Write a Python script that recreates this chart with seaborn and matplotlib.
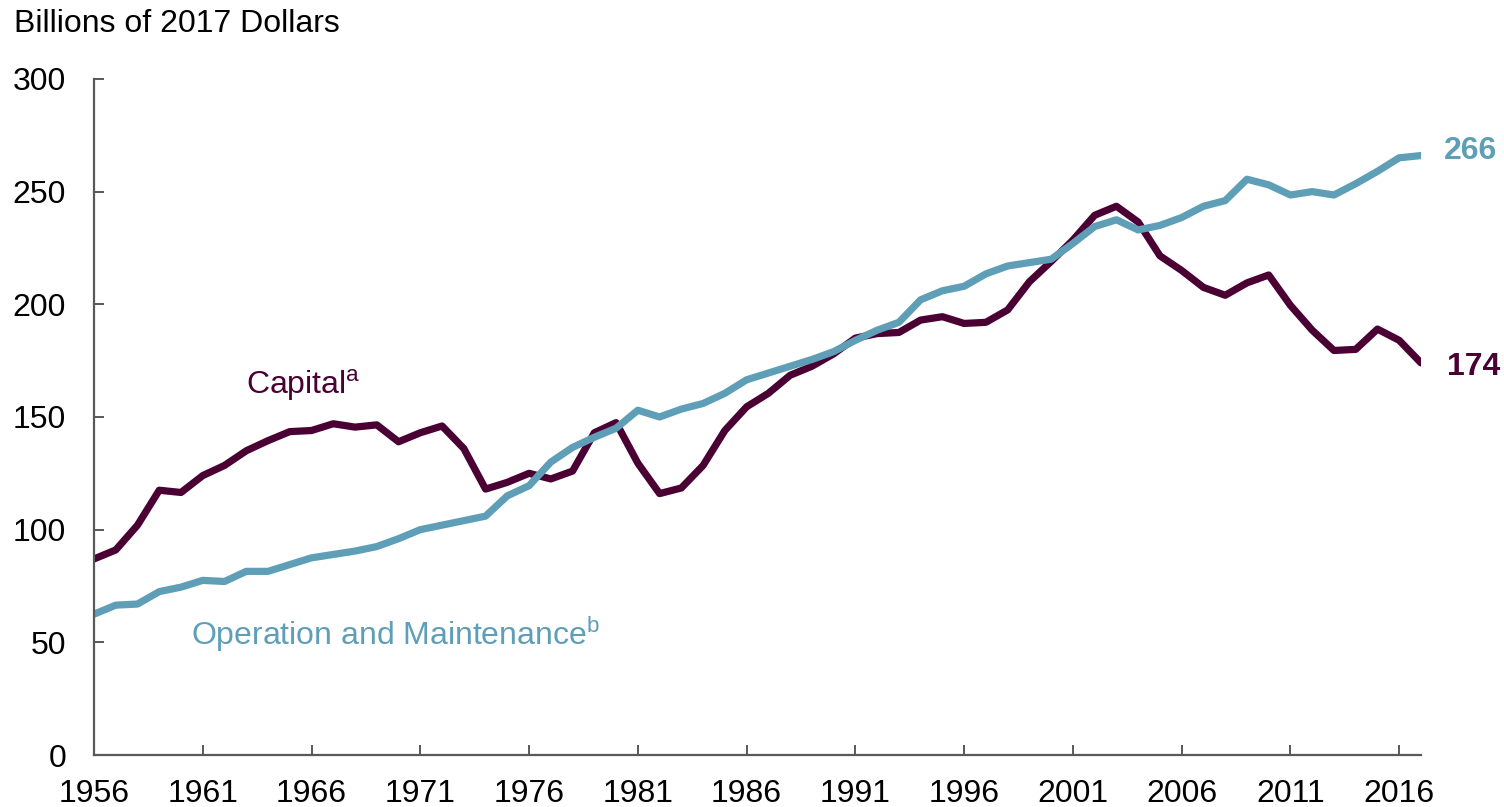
import pandas as pd
import seaborn as sns
import matplotlib.pyplot as plt

years = list(range(1956, 2018))

capital = [87, 91, 102, 117.5, 116.5, 124, 128.5, 135, 139.5, 143.5,
           144, 147, 145.5, 146.5, 139, 143, 146, 136, 118, 121,
           125, 122.5, 126, 143, 147.5, 129.5, 116, 118.5, 128.5, 144,
           154.5, 160.5, 168.5, 172.5, 178, 185, 187, 187.5, 193, 194.5,
           191.5, 192, 197.5, 210, 219, 228.5, 239.5, 243.5, 236.5, 221.5,
           215, 207.5, 204, 209.5, 213, 199.5, 188.5, 179.5, 180, 189,
           184, 174]

operation = [62.5, 66.5, 67, 72.5, 74.5, 77.5, 77, 81.5, 81.5, 84.5,
             87.5, 89, 90.5, 92.5, 96, 100, 102, 104, 106, 115,
             119.5, 130, 136.5, 141, 145, 153, 150, 153.5, 156, 160.5,
             166.5, 169.5, 172.5, 175.5, 179, 184, 188.5, 192, 202, 206,
             208, 213.5, 217, 218.5, 220, 227, 234.5, 237.5, 233, 235,
             238.5, 243.5, 246, 255.5, 253, 248.5, 250, 248.5, 253.5, 259,
             265, 266]

capital_color = "#4B0034"
operation_color = "#5E9FB7"

df = pd.DataFrame({
    "year": years * 2,
    "value": capital + operation,
    "series": ["Capital"] * len(years) + ["Operation"] * len(years),
})

sns.set_style("white")
plt.rcParams["font.family"] = ["Liberation Sans", "DejaVu Sans"]
plt.rcParams["text.color"] = "black"

fig = plt.figure(figsize=(15.04, 8.07), dpi=100)
ax = fig.add_axes([0.0625, 0.0644, 0.8823, 0.8378])

sns.lineplot(data=df, x="year", y="value", hue="series",
             palette={"Capital": capital_color, "Operation": operation_color},
             linewidth=5.2, legend=False, ax=ax)

ax.set_xlim(1956, 2017)
ax.set_ylim(0, 300)
ax.set_xticks(range(1956, 2017, 5))
ax.set_yticks(range(0, 301, 50))
ax.set_xlabel("")
ax.set_ylabel("")

for side in ["top", "right"]:
    ax.spines[side].set_visible(False)
for side in ["left", "bottom"]:
    ax.spines[side].set_color("#595959")
    ax.spines[side].set_linewidth(1.6)

ax.tick_params(axis="both", direction="in", length=7, width=1.4,
               color="#595959", labelsize=23, labelcolor="black",
               bottom=True, left=True)
ax.tick_params(axis="y", pad=20)
ax.tick_params(axis="x", pad=17.5)

fig.text(14 / 1504, 1 - 24 / 807, "Billions of 2017 Dollars",
         fontsize=23, ha="left", va="center")

ax.text(1963.0, 164, r"Capital$^{\mathregular{a}}$", color=capital_color,
        fontsize=23, ha="left", va="center")
ax.text(1960.45, 53.7, r"Operation and Maintenance$^{\mathregular{b}}$",
        color=operation_color, fontsize=23, ha="left", va="center")

ax.text(2018.05, operation[-1] + 2, f"{operation[-1]:.0f}", color=operation_color,
        fontsize=23, fontweight="bold", ha="left", va="center", clip_on=False)
ax.text(2018.2, capital[-1] - 2, f"{capital[-1]:.0f}", color=capital_color,
        fontsize=23, fontweight="bold", ha="left", va="center", clip_on=False)

fig.savefig("out.png", dpi=100)
